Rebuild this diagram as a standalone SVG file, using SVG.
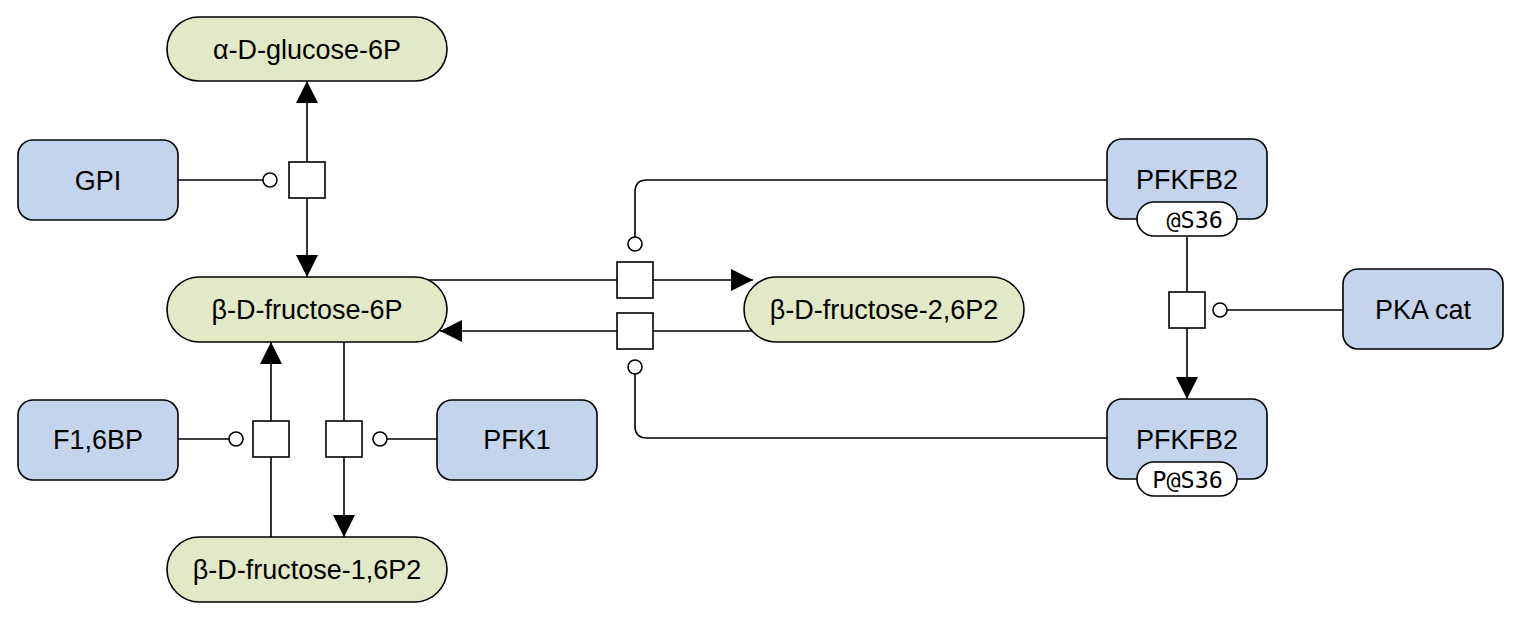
<svg xmlns="http://www.w3.org/2000/svg" width="1520" height="618" viewBox="0 0 1520 618">
<style>
.bg{fill:#ffffff}
.sm{fill:#e2e9c6;stroke:#000;stroke-width:1.6}
.mac{fill:#c3d4ec;stroke:#000;stroke-width:1.6}
.uoi{fill:#ffffff;stroke:#000;stroke-width:1.6}
.lbl{font-family:"Liberation Sans",Arial,sans-serif;font-size:27px;fill:#000;text-anchor:middle}
.mono{font-family:"DejaVu Sans Mono","Liberation Mono",monospace;font-size:23.5px;fill:#000;text-anchor:end}
.ln{fill:none;stroke:#000;stroke-width:1.6}
.pn{fill:#ffffff;stroke:#000;stroke-width:1.6}
.mod{fill:#ffffff;stroke:#000;stroke-width:1.6}
</style>
<defs>
<marker id="arr" viewBox="0 0 22 22" refX="22" refY="11" markerWidth="22" markerHeight="22" markerUnits="userSpaceOnUse" orient="auto">
<path d="M0,0 L22,11 L0,22 z" fill="#000"/>
</marker>
</defs>
<rect class="bg" x="0" y="0" width="1520" height="618"/>

<g id="connectors">
<!-- GPI reaction -->
<line class="ln" x1="307" y1="162" x2="307" y2="81" marker-end="url(#arr)"/>
<line class="ln" x1="307" y1="198" x2="307" y2="277" marker-end="url(#arr)"/>
<line class="ln" x1="178" y1="180" x2="263" y2="180"/>
<circle class="mod" cx="270" cy="180" r="7"/>
<rect class="pn" x="289" y="162" width="36" height="36"/>
<!-- F1,6BP reaction -->
<line class="ln" x1="271" y1="421" x2="271" y2="342" marker-end="url(#arr)"/>
<line class="ln" x1="271" y1="457" x2="271" y2="537"/>
<line class="ln" x1="178" y1="439" x2="229" y2="439"/>
<circle class="mod" cx="236" cy="439" r="7"/>
<rect class="pn" x="253" y="421" width="36" height="36"/>
<!-- PFK1 reaction -->
<line class="ln" x1="344" y1="342" x2="344" y2="421"/>
<line class="ln" x1="344" y1="457" x2="344" y2="537" marker-end="url(#arr)"/>
<line class="ln" x1="437" y1="439" x2="387" y2="439"/>
<circle class="mod" cx="380" cy="439" r="7"/>
<rect class="pn" x="326" y="421" width="36" height="36"/>
<!-- kinase reaction F6P -> F2,6P2 -->
<line class="ln" x1="428" y1="280" x2="617" y2="280"/>
<line class="ln" x1="653" y1="280" x2="753" y2="280" marker-end="url(#arr)"/>
<path class="ln" d="M1107,180 L647,180 Q635,180 635,192 L635,237"/>
<circle class="mod" cx="635" cy="244" r="7"/>
<rect class="pn" x="617" y="262" width="36" height="36"/>
<!-- phosphatase reaction F2,6P2 -> F6P -->
<line class="ln" x1="752" y1="331" x2="653" y2="331"/>
<line class="ln" x1="617" y1="331" x2="440" y2="331" marker-end="url(#arr)"/>
<path class="ln" d="M1107,438 L647,438 Q635,438 635,426 L635,374"/>
<circle class="mod" cx="635" cy="367" r="7"/>
<rect class="pn" x="617" y="313" width="36" height="36"/>
<!-- PFKFB2 phosphorylation -->
<line class="ln" x1="1187" y1="237" x2="1187" y2="292"/>
<line class="ln" x1="1187" y1="328" x2="1187" y2="399" marker-end="url(#arr)"/>
<line class="ln" x1="1343" y1="310" x2="1227" y2="310"/>
<circle class="mod" cx="1220" cy="310" r="7"/>
<rect class="pn" x="1169" y="292" width="36" height="36"/>
</g>

<g id="n_glucose6p">
<rect class="sm" x="167" y="17" width="280" height="64" rx="32" ry="32"/>
<text class="lbl" x="307" y="58.5">α-D-glucose-6P</text>
</g>
<g id="n_gpi">
<rect class="mac" x="18" y="140" width="160" height="80" rx="15" ry="15"/>
<text class="lbl" x="98" y="189.5">GPI</text>
</g>
<g id="n_fructose6p">
<rect class="sm" x="167" y="277" width="280" height="65" rx="32.5" ry="32.5"/>
<text class="lbl" x="307" y="319">β-D-fructose-6P</text>
</g>
<g id="n_f16bp">
<rect class="mac" x="18" y="400" width="160" height="80" rx="15" ry="15"/>
<text class="lbl" x="98" y="449">F1,6BP</text>
</g>
<g id="n_pfk1">
<rect class="mac" x="437" y="400" width="160" height="80" rx="15" ry="15"/>
<text class="lbl" x="517" y="449">PFK1</text>
</g>
<g id="n_fructose16p2">
<rect class="sm" x="167" y="537" width="280" height="65" rx="32.5" ry="32.5"/>
<text class="lbl" x="307" y="579">β-D-fructose-1,6P2</text>
</g>
<g id="n_fructose26p2">
<rect class="sm" x="744" y="277" width="280" height="65" rx="32.5" ry="32.5"/>
<text class="lbl" x="884" y="319">β-D-fructose-2,6P2</text>
</g>
<g id="n_pfkfb2">
<rect class="mac" x="1107" y="139" width="160" height="80" rx="15" ry="15"/>
<text class="lbl" x="1187" y="188.5">PFKFB2</text>
<rect class="uoi" x="1137" y="202" width="100" height="34" rx="17" ry="17"/>
<text class="mono" x="1223" y="227.5">@S36</text>
</g>
<g id="n_pkacat">
<rect class="mac" x="1343" y="269" width="160" height="80" rx="15" ry="15"/>
<text class="lbl" x="1423" y="318.5">PKA cat</text>
</g>
<g id="n_pfkfb2_p">
<rect class="mac" x="1107" y="399" width="160" height="80" rx="15" ry="15"/>
<text class="lbl" x="1187" y="448.5">PFKFB2</text>
<rect class="uoi" x="1137" y="462" width="100" height="34" rx="17" ry="17"/>
<text class="mono" x="1223" y="487.5">P@S36</text>
</g>
</svg>
